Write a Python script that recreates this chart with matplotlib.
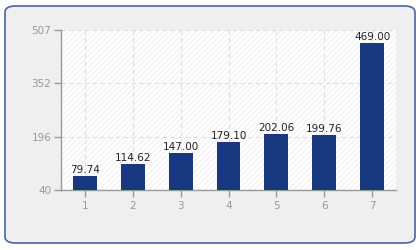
import numpy as np
import matplotlib
matplotlib.use("Agg")
from matplotlib import pyplot as plt
from matplotlib.patches import FancyBboxPatch, Rectangle

categories = [1, 2, 3, 4, 5, 6, 7]
values = [79.74, 114.62, 147.00, 179.10, 202.06, 199.76, 469.00]
y_ticks = [40, 196, 352, 507]

fig = plt.figure(figsize=(4.2, 2.5), dpi=100)
fig.patch.set_facecolor("white")

# rounded outer frame
frame = FancyBboxPatch((5 / 420, 7 / 250), 410 / 420, 237 / 250,
                       boxstyle="round,pad=0,rounding_size=0.025",
                       transform=fig.transFigure, facecolor="#efefef",
                       edgecolor="#4a64a0", linewidth=1.2, zorder=-5)
fig.patches.append(frame)

ax = fig.add_axes([61 / 420, 60 / 250, 335 / 420, 160 / 250])
ax.set_zorder(5)
ax.set_facecolor("white")

# faint diagonal hatching in plot area
hatch = Rectangle((0, 0), 1, 1, transform=ax.transAxes, facecolor="white",
                  edgecolor="#f3f3f3", hatch="//////", linewidth=0, zorder=0)
ax.add_patch(hatch)

ax.bar(categories, values, width=0.5, color="#183880", zorder=3,
       edgecolor="none")
for x, v in zip(categories, values):
    ax.text(x, v + 4, "%.2f" % v, ha="center", va="bottom", fontsize=7.5,
            color="#222222", zorder=4)

ax.set_xlim(0.5, 7.5)
ax.set_ylim(40, 507)
ax.set_xticks(categories)
ax.set_yticks(y_ticks)
ax.grid(True, linestyle=(0, (4, 3)), color="#dddddd", linewidth=0.8, zorder=1)

for side in ["top", "right"]:
    ax.spines[side].set_visible(False)
for side in ["left", "bottom"]:
    ax.spines[side].set_color("#999999")
    ax.spines[side].set_linewidth(1)

ax.tick_params(axis="both", colors="#999999", labelcolor="#999999",
               labelsize=7.5, length=5, width=1)
ax.tick_params(axis="x", pad=3)
ax.tick_params(axis="y", pad=2)

fig.savefig("out.png", dpi=100)
